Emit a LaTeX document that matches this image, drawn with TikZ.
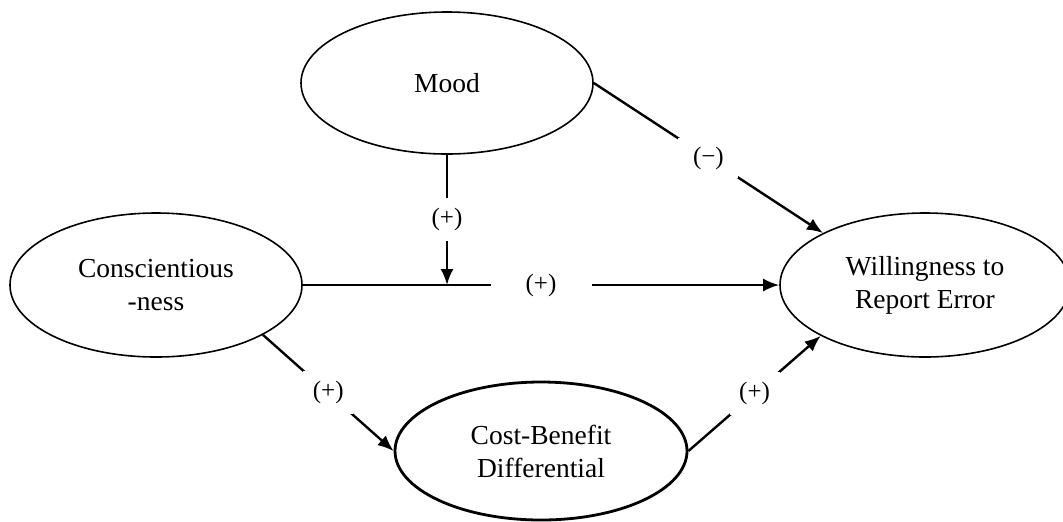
\documentclass[tikz,border=0pt]{standalone}
\usepackage{fontspec}
\setmainfont{Liberation Serif}
\usetikzlibrary{arrows.meta,shapes.geometric}
\begin{document}
\begin{tikzpicture}[x=0.5pt,y=-0.5pt,
  ell/.style={draw, ellipse, line width=0.8pt, inner sep=2pt, align=center,
    font=\fontsize{13.75}{16.5}\selectfont},
  conn/.style={line width=1.2pt},
  arr/.style={conn, -{Latex[length=8pt,width=6.5pt]}},
  lab/.style={fill=white, inner sep=0pt, font=\fontsize{12.5}{15}\selectfont}]
\useasboundingbox (0,0) rectangle (1063,521);
\node[ell, minimum width=146pt, minimum height=71pt] (mood) at (447,83) {Mood};
\node[ell, minimum width=146pt, minimum height=72pt] (consc) at (156,285) {Conscientious\\-ness};
\node[ell, minimum width=145pt, minimum height=72pt] (will) at (925,285) {Willingness to\\Report Error};
\node[ell, line width=1.4pt, minimum width=146pt, minimum height=69pt] (cb) at (541,451) {Cost-Benefit\\Differential};
\coordinate (j) at (consc.east -| mood.south);
\draw[arr] (mood.east) -- node[lab, minimum width=30pt, minimum height=20pt] (l1) {(−)} (will.153);
\draw[arr] (consc.east) -- node[lab, minimum width=50.5pt, minimum height=12pt] (l3) {(+)} (will.west);
\draw[arr] (mood.south) -- node[lab, minimum width=8pt, minimum height=21.5pt] (l2) {(+)} (j);
\draw[arr] (consc.-25.7) -- node[lab, minimum width=25pt, minimum height=21.5pt] (l4) {(+)} (cb.west);
\draw[arr] (cb.east) -- node[lab, minimum width=25pt, minimum height=21.5pt] (l5) {(+)} (will.206.8);
\end{tikzpicture}
\end{document}
